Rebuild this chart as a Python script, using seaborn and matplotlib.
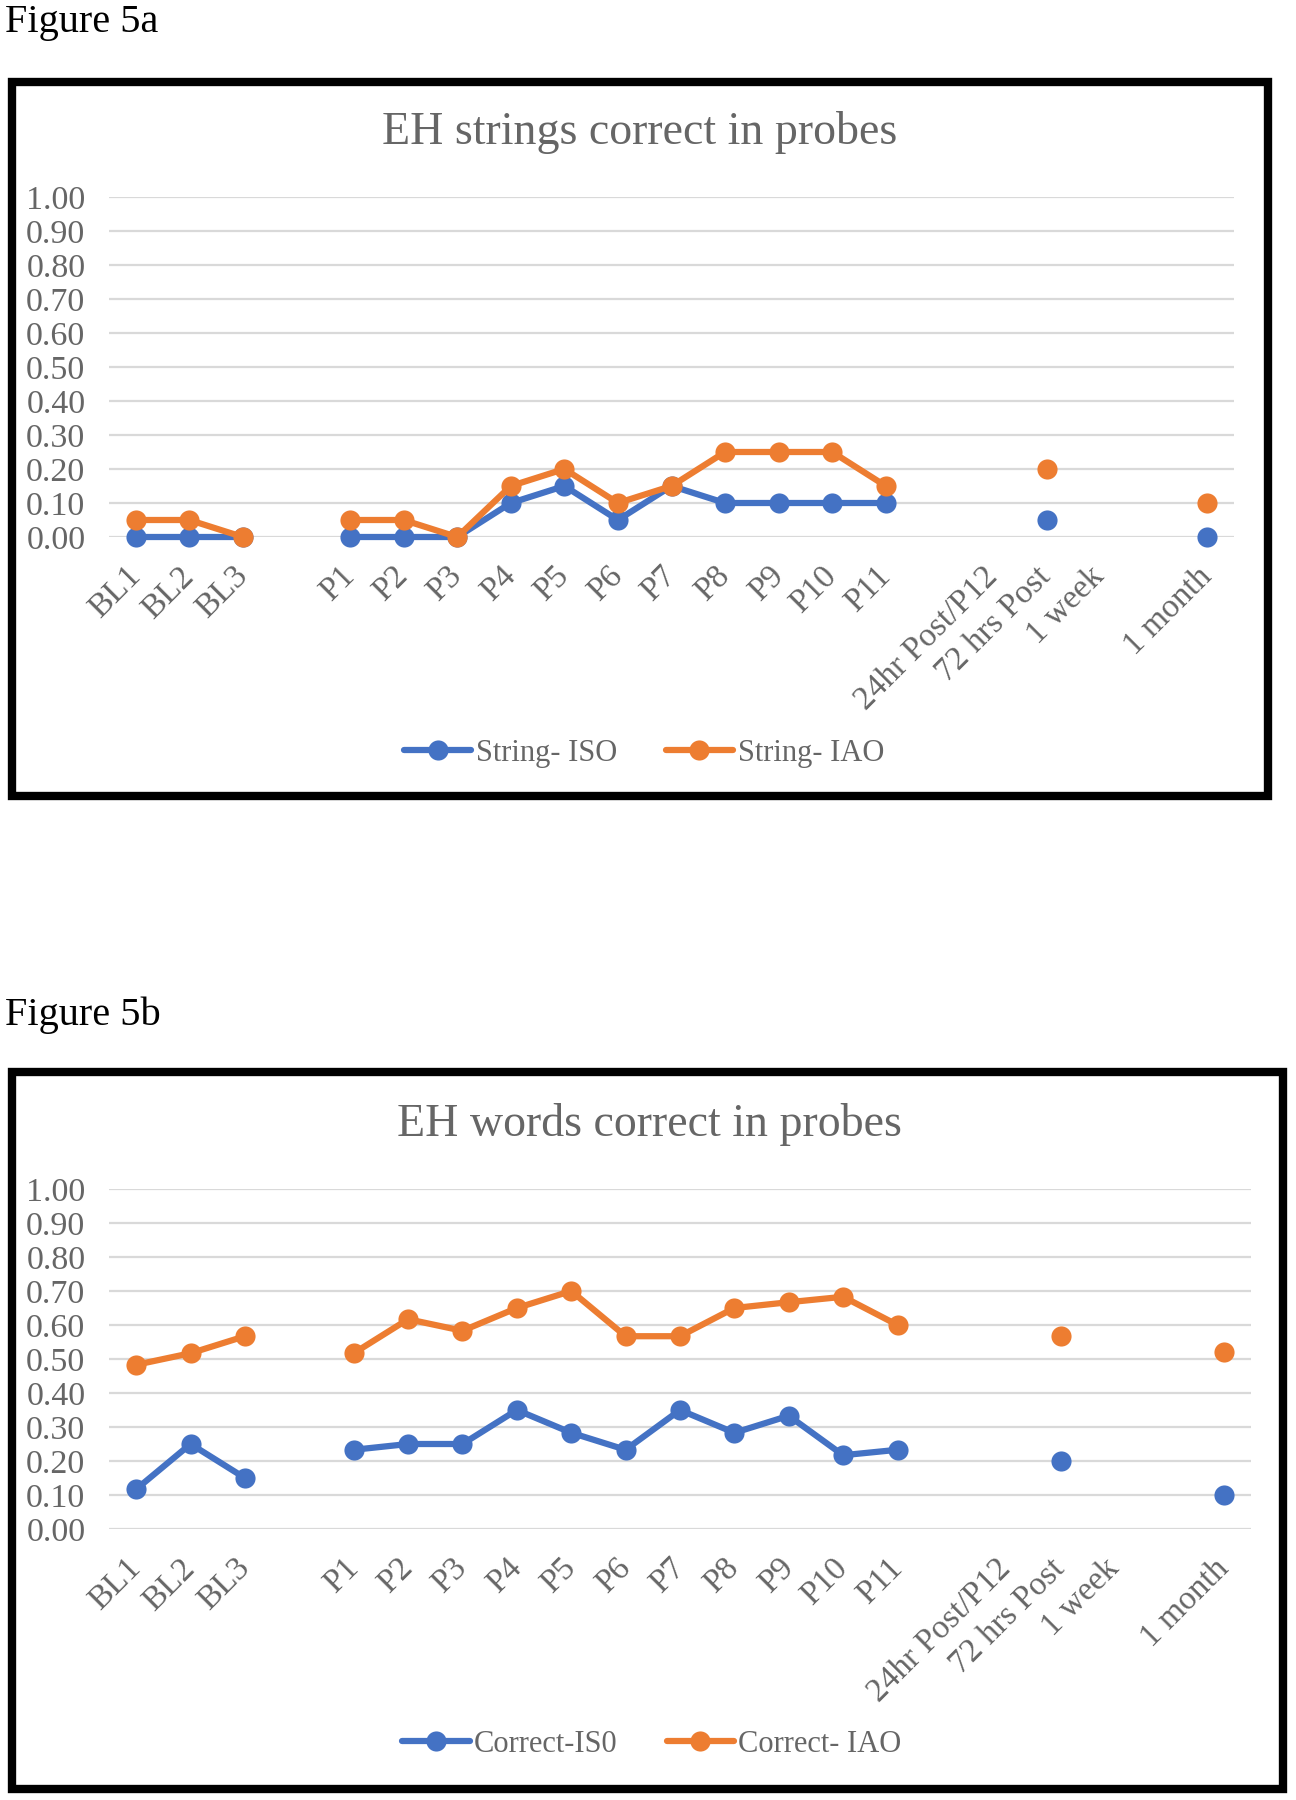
import numpy as np
import pandas as pd
import matplotlib
matplotlib.use("Agg")
import matplotlib.pyplot as plt
import seaborn as sns
from matplotlib.patches import Rectangle
from matplotlib.lines import Line2D

nan = np.nan

categories = ["BL1", "BL2", "BL3", "", "P1", "P2", "P3", "P4", "P5", "P6", "P7",
              "P8", "P9", "P10", "P11", "", "24hr Post/P12", "72 hrs Post",
              "1 week", "", "1 month"]
yticks = [0.0, 0.1, 0.2, 0.3, 0.4, 0.5, 0.6, 0.7, 0.8, 0.9, 1.0]

# Figure 5a
string_iso = [0, 0, 0, nan, 0, 0, 0, 0.10, 0.15, 0.05, 0.15, 0.10, 0.10, 0.10,
              0.10, nan, nan, 0.05, nan, nan, 0]
string_iao = [0.05, 0.05, 0, nan, 0.05, 0.05, 0, 0.15, 0.20, 0.10, 0.15, 0.25,
              0.25, 0.25, 0.15, nan, nan, 0.20, nan, nan, 0.10]

# Figure 5b
correct_iso = [0.117, 0.25, 0.15, nan, 0.233, 0.25, 0.25, 0.35, 0.283, 0.233,
               0.35, 0.283, 0.333, 0.217, 0.233, nan, nan, 0.20, nan, nan, 0.10]
correct_iao = [0.483, 0.517, 0.567, nan, 0.517, 0.617, 0.583, 0.65, 0.70, 0.567,
               0.567, 0.65, 0.667, 0.683, 0.60, nan, nan, 0.567, nan, nan, 0.52]

BLUE = "#4472C4"
ORANGE = "#ED7D31"
GREY = "#666666"

sns.set_theme(style="white")
plt.rcParams["font.family"] = ["Liberation Serif", "DejaVu Serif"]

W, H = 1296, 1800
fig = plt.figure(figsize=(W / 100, H / 100), dpi=100)


def to_long(values, name):
    """pasa una serie con huecos a formato largo, un segmento por tramo continuo"""
    rows = []
    seg = 0
    for i, v in enumerate(values):
        if np.isnan(v):
            seg += 1
            continue
        rows.append(dict(pos=i, value=v, series=name, segment=f"{name}-{seg}"))
    return pd.DataFrame(rows)


def px_box(x0, y0, x1, y1):
    # pixeles (origen arriba a la izquierda) -> fraccion de figura
    return [x0 / W, 1 - y1 / H, (x1 - x0) / W, (y1 - y0) / H]


def panel(fig_label, label_y, box, title, title_xy, ax_px, s1, s2, names, legend_xy):
    fig.text(5 / W, 1 - label_y / H, fig_label, fontsize=29, color="black", va="baseline")
    bx = px_box(*box)
    fig.patches.append(Rectangle((bx[0], bx[1]), bx[2], bx[3], transform=fig.transFigure,
                                 fill=False, lw=6, ec="black", zorder=0))
    fig.text(title_xy[0] / W, 1 - title_xy[1] / H, title, fontsize=33, color=GREY,
             ha="center", va="center")

    ax = fig.add_axes(px_box(*ax_px))
    df = pd.concat([to_long(s1, names[0]), to_long(s2, names[1])], ignore_index=True)
    sns.lineplot(data=df, x="pos", y="value", hue="series", hue_order=names,
                 units="segment", estimator=None, palette=[BLUE, ORANGE],
                 marker="o", markersize=14.5, markeredgewidth=0, linewidth=4.5,
                 legend=False, ax=ax, clip_on=False)

    ax.set_xlim(-0.5, len(categories) - 0.5)
    ax.set_ylim(0, 1)
    ax.set_yticks(yticks)
    ax.set_yticklabels([f"{v:.2f}" for v in yticks], fontsize=24.5, color=GREY)
    ax.set_xticks(range(len(categories)))
    ax.set_xticklabels(categories, fontsize=24, color=GREY, rotation=45,
                       ha="right", va="center", rotation_mode="anchor")
    ax.tick_params(axis="x", length=0, pad=25)
    ax.tick_params(axis="y", length=0, pad=17)
    ax.set_xlabel("")
    ax.set_ylabel("")
    ax.grid(axis="y", color="#D9D9D9", lw=1.6)
    ax.set_axisbelow(True)
    for s in ax.spines.values():
        s.set_visible(False)

    handles = [Line2D([], [], color=c, lw=4.5, marker="o", ms=14.5, mew=0)
               for c in (BLUE, ORANGE)]
    fig.legend(handles, names, loc="center",
               bbox_to_anchor=(legend_xy[0] / W, 1 - legend_xy[1] / H),
               ncol=2, frameon=False, fontsize=22, labelcolor=GREY,
               handlelength=2.2, handletextpad=0.15, columnspacing=1.6)
    return ax


panel("Figure 5a", 32, (12, 82, 1268, 796), "EH strings correct in probes", (640, 132),
      (109, 197, 1234, 537), string_iso, string_iao, ["String- ISO", "String- IAO"],
      (644, 753))

panel("Figure 5b", 1025, (12, 1072, 1283, 1789), "EH words correct in probes", (649, 1124),
      (109, 1189, 1251, 1529), correct_iso, correct_iao, ["Correct-IS0", "Correct- IAO"],
      (652, 1744))

fig.savefig("out.png", dpi=100)
